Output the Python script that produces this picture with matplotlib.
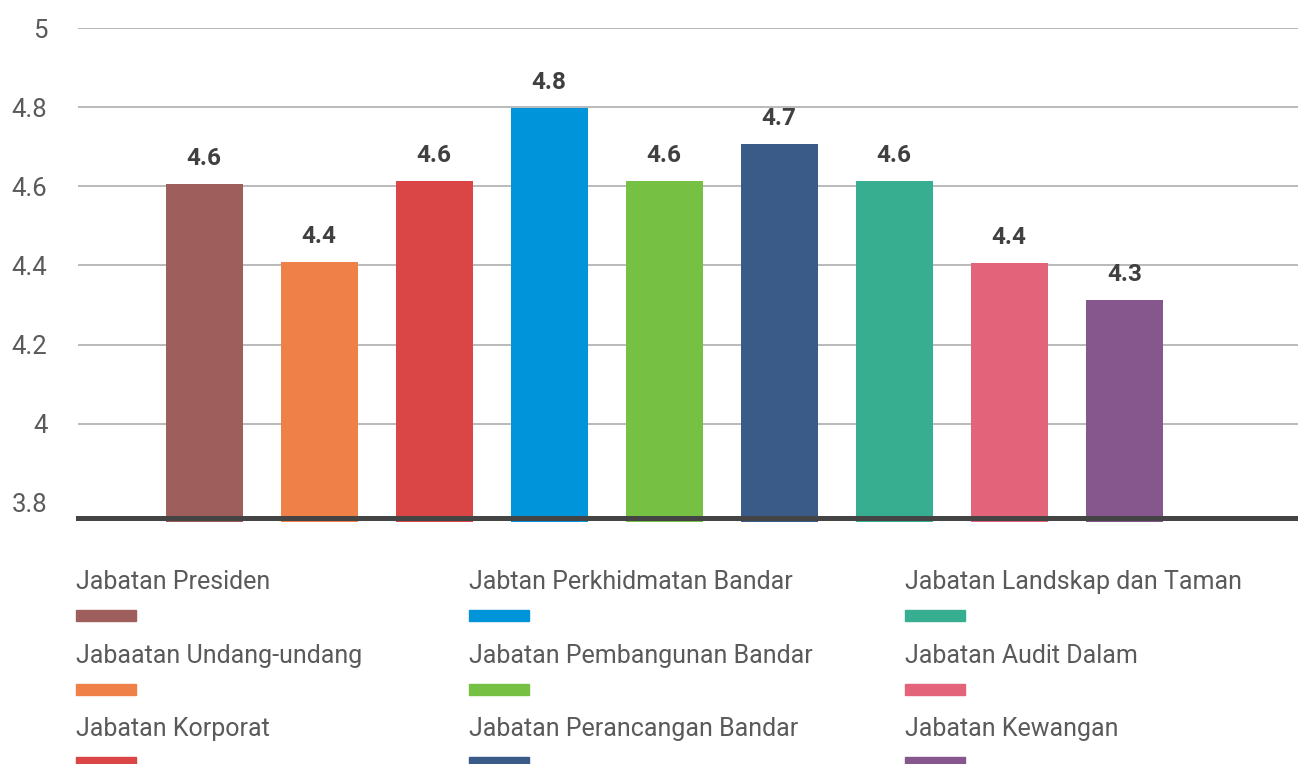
import matplotlib
matplotlib.use('Agg')
import matplotlib.pyplot as plt
from matplotlib.patches import Rectangle

plt.rcParams['font.family'] = ['Roboto', 'DejaVu Sans']

# data
jabatan = ['Jabatan Presiden', 'Jabaatan Undang-undang', 'Jabatan Korporat',
           'Jabtan Perkhidmatan Bandar', 'Jabatan Pembangunan Bandar', 'Jabatan Perancangan Bandar',
           'Jabatan Landskap dan Taman', 'Jabatan Audit Dalam', 'Jabatan Kewangan']
skor = [4.606, 4.409, 4.614, 4.798, 4.614, 4.707, 4.614, 4.407, 4.313]
warna = ['#9E5E5B', '#EE8048', '#DA4546', '#0095DA', '#76C043',
         '#3A5B88', '#37AE8F', '#E3647A', '#85578D']
y_ticks = [3.8, 4, 4.2, 4.4, 4.6, 4.8, 5]
y_labels = ['3.8', '4', '4.2', '4.4', '4.6', '4.8', '5']

fig = plt.figure(figsize=(12.98, 7.64), dpi=100)
ax = fig.add_axes([78/1298, 1-518/764, 1-78/1298, (518-28)/764])

n = len(skor)
lantai = 3.752  # bars run a little below the axis line
ax.bar(range(n), [v - lantai for v in skor], width=0.67, color=warna,
       bottom=lantai, zorder=2, clip_on=False)

for i, v in enumerate(skor):
    ax.annotate('%.1f' % v, (i, v), xytext=(0, 10), textcoords='offset points',
                ha='center', va='bottom', fontsize=17.5, fontweight='bold', color='#404040')

ax.set_xlim(-1.096, 9.51)
ax.set_ylim(3.762, 5)
ax.set_yticks(y_ticks)
ax.set_yticklabels(y_labels)
ax.tick_params(axis='y', length=0, pad=22, labelsize=18.5, labelcolor='#5a5a5a')
ax.set_xticks([])

for t in y_ticks[1:]:
    ax.axhline(t, color='#b4b4b4', lw=1.3, zorder=1)
ax.axhline(3.762, color='#444444', lw=3.6, zorder=3, clip_on=False)

for s in ax.spines.values():
    s.set_visible(False)

# legend, column-major, text above swatch
col_x = [76, 469, 905]
row_y = [582, 656, 729]
for k, (nama, c) in enumerate(zip(jabatan, warna)):
    cx = col_x[k // 3]
    ry = row_y[k % 3]
    fig.text(cx/1298, 1-ry/764, nama, ha='left', va='center', fontsize=18,
             color='#5a5a5a')
    fig.patches.append(Rectangle((cx/1298, 1-(ry+39)/764), 60/1298, 11/764,
                                 transform=fig.transFigure, color=c))

fig.savefig('out.png', dpi=100)
